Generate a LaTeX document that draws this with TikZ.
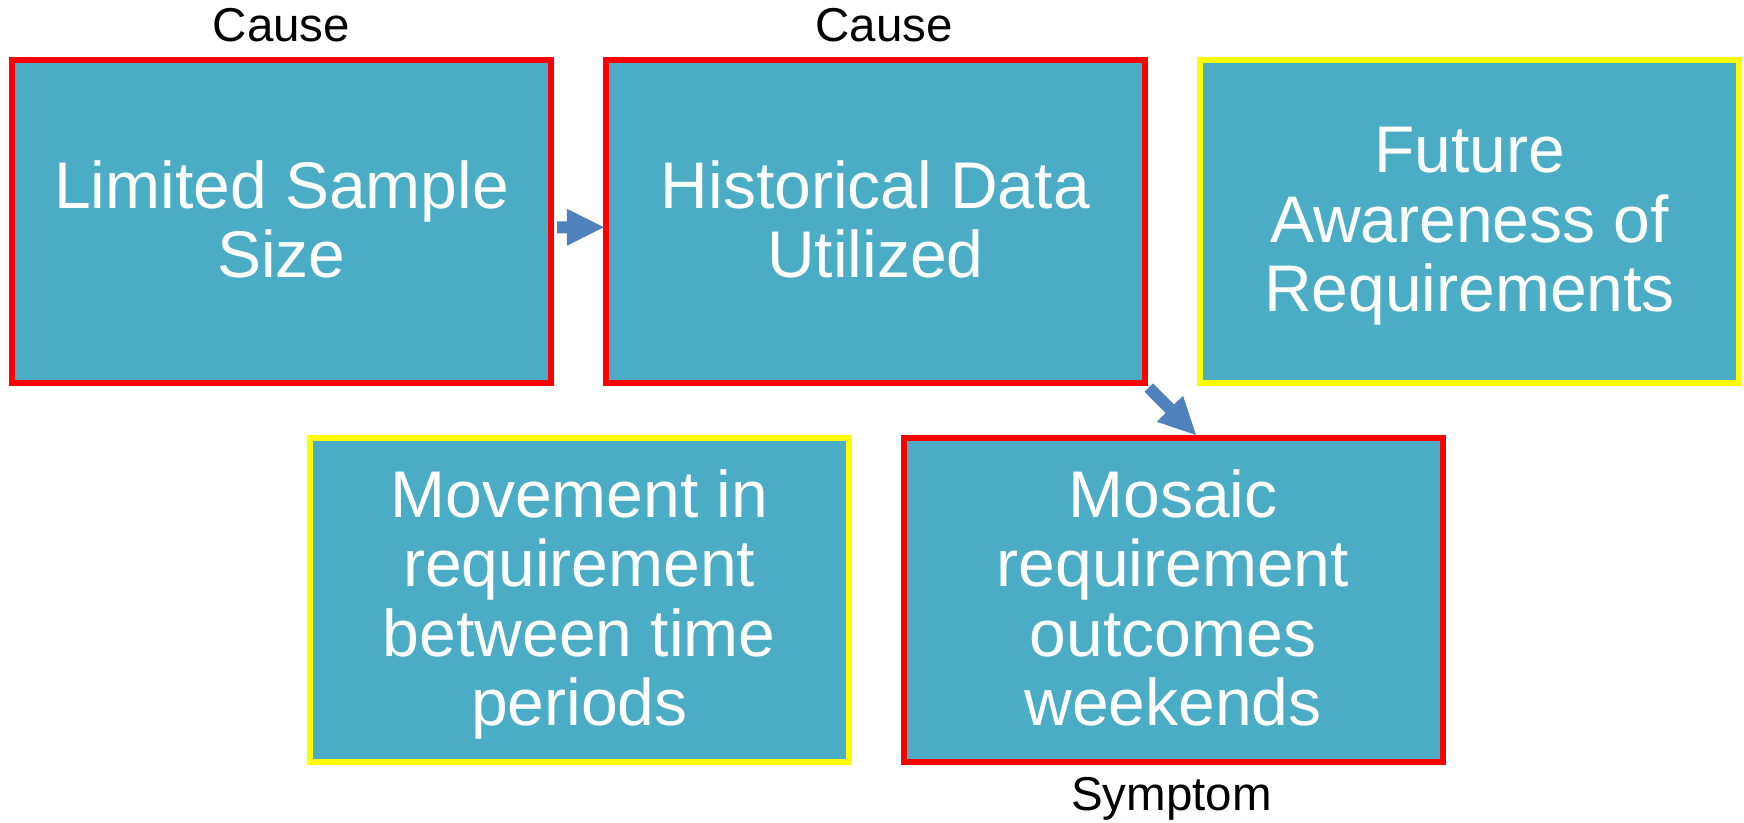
\documentclass[tikz,border=0pt]{standalone}
\usepackage{fontspec}
\setmainfont{Liberation Sans}
\usetikzlibrary{calc}
\definecolor{boxfill}{HTML}{4BACC6}
\definecolor{arrowc}{HTML}{4F81BD}
\definecolor{redb}{HTML}{FF0000}
\definecolor{yelb}{HTML}{FFFF00}
\newcommand{\blockarr}[2]{%
  \coordinate (#1h) at ($(#2)!37pt!(#1)$);
  \fill[arrowc] ($(#1)!6pt!90:(#2)$) -- ($(#1h)!6pt!90:(#2)$) -- ($(#1h)!18.5pt!90:(#2)$) -- (#2)
    -- ($(#1h)!18.5pt!-90:(#2)$) -- ($(#1h)!6pt!-90:(#2)$) -- ($(#1)!6pt!-90:(#2)$) -- cycle;
}
\begin{document}
\begin{tikzpicture}[x=1pt,y=-1pt,
  box/.style={rectangle, fill=boxfill, line width=6pt, inner sep=0pt,
    minimum width=539pt, minimum height=323.5pt},
  causebox/.style={box, draw=redb},
  otherbox/.style={box, draw=yelb},
  boxtext/.style={align=center, text=white, inner sep=0pt,
    font=\fontsize{66}{69.5}\selectfont},
  lab/.style={font=\fontsize{47.5}{52}\selectfont, text=black, inner sep=0pt, anchor=base}]
\useasboundingbox (0,0) rectangle (1744,822);
\node[causebox] (b1) at (281.5,221.25) {};
\node[causebox] (b2) at (875.25,221.25) {};
\node[otherbox] (b3) at (1469.5,221.25) {};
\node[otherbox] (b4) at (579.25,599.75) {};
\node[causebox] (b5) at (1173,599.75) {};
\node[boxtext] (t1) at ($(b1.center)+(0,-1.8)$) {Limited Sample\\Size};
\node[boxtext] (t2) at ($(b2.center)+(0,-1.8)$) {Historical Data\\Utilized};
\node[boxtext] (t3) at ($(b3.center)+(0,4.9)$) {Future\\Awareness of\\Requirements};
\node[boxtext] (t4) at ($(b4.center)+(0,4.5)$) {Movement in\\requirement\\between time\\periods};
\node[boxtext] (t5) at ($(b5.center)+(0,-1.7)$) {Mosaic\\requirement\\outcomes\\weekends};
\node[lab] (c1) at (281.5,41) {Cause};
\node[lab] (c2) at (884,41) {Cause};
\node[lab] (s1) at (1171.5,810) {Symptom};
\coordinate (a1s) at ($(b1.east)+(3,6)$);
\coordinate (a1e) at ($(b2.west)+(1,6)$);
\blockarr{a1s}{a1e}
\coordinate (a2s) at ($(b2.south east)+(1,1.5)$);
\coordinate (a2e) at ($(b5.north)+(23,0)$);
\blockarr{a2s}{a2e}
\end{tikzpicture}
\end{document}
